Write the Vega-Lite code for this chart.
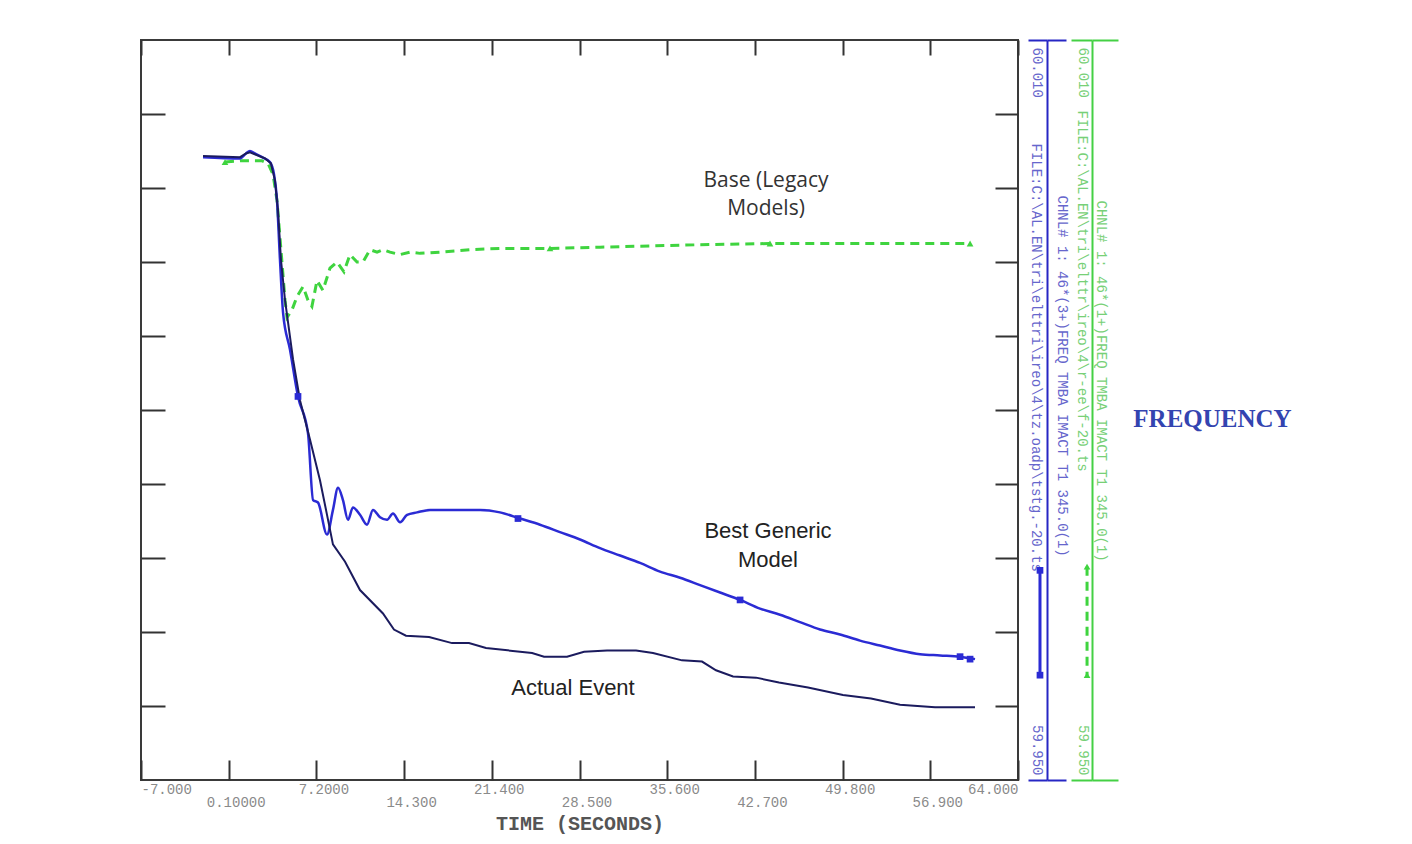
{
  "$schema": "https://vega.github.io/schema/vega-lite/v6.json",
  "width": 877,
  "height": 740,
  "autosize": {"type": "none"},
  "padding": {"left": 141, "top": 40, "right": 394, "bottom": 64},
  "background": "white",
  "config": {"view": {"stroke": "#3a3a3a", "strokeWidth": 2}, "axis": {"grid": false}},
  "datasets": {
    "curves": [
      {"series": "Base (Legacy Models)", "t": -0.20, "f": 60.0001},
      {"series": "Base (Legacy Models)", "t": 1.02, "f": 60.0002},
      {"series": "Base (Legacy Models)", "t": 2.80, "f": 60.0002},
      {"series": "Base (Legacy Models)", "t": 3.28, "f": 60.0000},
      {"series": "Base (Legacy Models)", "t": 3.69, "f": 59.9991},
      {"series": "Base (Legacy Models)", "t": 4.01, "f": 59.9970},
      {"series": "Base (Legacy Models)", "t": 4.33, "f": 59.9930},
      {"series": "Base (Legacy Models)", "t": 4.66, "f": 59.9889},
      {"series": "Base (Legacy Models)", "t": 4.82, "f": 59.9875},
      {"series": "Base (Legacy Models)", "t": 5.22, "f": 59.9881},
      {"series": "Base (Legacy Models)", "t": 5.63, "f": 59.9892},
      {"series": "Base (Legacy Models)", "t": 6.12, "f": 59.9900},
      {"series": "Base (Legacy Models)", "t": 6.52, "f": 59.9889},
      {"series": "Base (Legacy Models)", "t": 6.84, "f": 59.9884},
      {"series": "Base (Legacy Models)", "t": 7.25, "f": 59.9905},
      {"series": "Base (Legacy Models)", "t": 7.73, "f": 59.9897},
      {"series": "Base (Legacy Models)", "t": 8.30, "f": 59.9915},
      {"series": "Base (Legacy Models)", "t": 8.87, "f": 59.9920},
      {"series": "Base (Legacy Models)", "t": 9.43, "f": 59.9912},
      {"series": "Base (Legacy Models)", "t": 9.92, "f": 59.9926},
      {"series": "Base (Legacy Models)", "t": 10.49, "f": 59.9920},
      {"series": "Base (Legacy Models)", "t": 10.97, "f": 59.9920},
      {"series": "Base (Legacy Models)", "t": 11.54, "f": 59.9930},
      {"series": "Base (Legacy Models)", "t": 12.11, "f": 59.9928},
      {"series": "Base (Legacy Models)", "t": 12.59, "f": 59.9930},
      {"series": "Base (Legacy Models)", "t": 13.16, "f": 59.9928},
      {"series": "Base (Legacy Models)", "t": 13.97, "f": 59.9926},
      {"series": "Base (Legacy Models)", "t": 14.78, "f": 59.9928},
      {"series": "Base (Legacy Models)", "t": 15.59, "f": 59.9927},
      {"series": "Base (Legacy Models)", "t": 17.21, "f": 59.9928},
      {"series": "Base (Legacy Models)", "t": 19.64, "f": 59.9930},
      {"series": "Base (Legacy Models)", "t": 22.06, "f": 59.9931},
      {"series": "Base (Legacy Models)", "t": 26.11, "f": 59.9931},
      {"series": "Base (Legacy Models)", "t": 30.16, "f": 59.9932},
      {"series": "Base (Legacy Models)", "t": 34.21, "f": 59.9933},
      {"series": "Base (Legacy Models)", "t": 38.26, "f": 59.9934},
      {"series": "Base (Legacy Models)", "t": 43.92, "f": 59.9935},
      {"series": "Base (Legacy Models)", "t": 50.40, "f": 59.9935},
      {"series": "Base (Legacy Models)", "t": 60.12, "f": 59.9935},

      {"series": "Best Generic Model", "t": -1.98, "f": 60.0005},
      {"series": "Best Generic Model", "t": 1.02, "f": 60.0004},
      {"series": "Best Generic Model", "t": 1.50, "f": 60.0008},
      {"series": "Best Generic Model", "t": 1.82, "f": 60.0010},
      {"series": "Best Generic Model", "t": 2.23, "f": 60.0008},
      {"series": "Best Generic Model", "t": 2.80, "f": 60.0005},
      {"series": "Best Generic Model", "t": 3.44, "f": 60.0001},
      {"series": "Best Generic Model", "t": 3.77, "f": 59.9991},
      {"series": "Best Generic Model", "t": 4.01, "f": 59.9970},
      {"series": "Best Generic Model", "t": 4.25, "f": 59.9922},
      {"series": "Best Generic Model", "t": 4.50, "f": 59.9879},
      {"series": "Best Generic Model", "t": 5.06, "f": 59.9849},
      {"series": "Best Generic Model", "t": 5.71, "f": 59.9811},
      {"series": "Best Generic Model", "t": 6.52, "f": 59.9781},
      {"series": "Best Generic Model", "t": 6.93, "f": 59.9727},
      {"series": "Best Generic Model", "t": 7.33, "f": 59.9725},
      {"series": "Best Generic Model", "t": 8.06, "f": 59.9699},
      {"series": "Best Generic Model", "t": 8.54, "f": 59.9719},
      {"series": "Best Generic Model", "t": 8.95, "f": 59.9737},
      {"series": "Best Generic Model", "t": 9.35, "f": 59.9727},
      {"series": "Best Generic Model", "t": 9.76, "f": 59.9711},
      {"series": "Best Generic Model", "t": 10.16, "f": 59.9721},
      {"series": "Best Generic Model", "t": 10.73, "f": 59.9715},
      {"series": "Best Generic Model", "t": 11.30, "f": 59.9707},
      {"series": "Best Generic Model", "t": 11.78, "f": 59.9719},
      {"series": "Best Generic Model", "t": 12.35, "f": 59.9713},
      {"series": "Best Generic Model", "t": 12.92, "f": 59.9711},
      {"series": "Best Generic Model", "t": 13.40, "f": 59.9716},
      {"series": "Best Generic Model", "t": 13.97, "f": 59.9709},
      {"series": "Best Generic Model", "t": 14.54, "f": 59.9715},
      {"series": "Best Generic Model", "t": 15.35, "f": 59.9717},
      {"series": "Best Generic Model", "t": 16.40, "f": 59.9719},
      {"series": "Best Generic Model", "t": 17.45, "f": 59.9719},
      {"series": "Best Generic Model", "t": 18.83, "f": 59.9719},
      {"series": "Best Generic Model", "t": 20.45, "f": 59.9719},
      {"series": "Best Generic Model", "t": 22.06, "f": 59.9717},
      {"series": "Best Generic Model", "t": 23.68, "f": 59.9712},
      {"series": "Best Generic Model", "t": 25.30, "f": 59.9707},
      {"series": "Best Generic Model", "t": 26.92, "f": 59.9701},
      {"series": "Best Generic Model", "t": 28.54, "f": 59.9695},
      {"series": "Best Generic Model", "t": 30.16, "f": 59.9688},
      {"series": "Best Generic Model", "t": 31.78, "f": 59.9682},
      {"series": "Best Generic Model", "t": 33.40, "f": 59.9676},
      {"series": "Best Generic Model", "t": 35.02, "f": 59.9669},
      {"series": "Best Generic Model", "t": 36.64, "f": 59.9664},
      {"series": "Best Generic Model", "t": 38.26, "f": 59.9658},
      {"series": "Best Generic Model", "t": 39.88, "f": 59.9652},
      {"series": "Best Generic Model", "t": 41.50, "f": 59.9646},
      {"series": "Best Generic Model", "t": 43.11, "f": 59.9639},
      {"series": "Best Generic Model", "t": 44.73, "f": 59.9634},
      {"series": "Best Generic Model", "t": 46.35, "f": 59.9628},
      {"series": "Best Generic Model", "t": 47.97, "f": 59.9622},
      {"series": "Best Generic Model", "t": 49.59, "f": 59.9618},
      {"series": "Best Generic Model", "t": 51.21, "f": 59.9613},
      {"series": "Best Generic Model", "t": 52.83, "f": 59.9609},
      {"series": "Best Generic Model", "t": 54.45, "f": 59.9605},
      {"series": "Best Generic Model", "t": 56.07, "f": 59.9602},
      {"series": "Best Generic Model", "t": 57.69, "f": 59.9601},
      {"series": "Best Generic Model", "t": 59.31, "f": 59.9600},
      {"series": "Best Generic Model", "t": 60.52, "f": 59.9598},

      {"series": "Actual Event", "t": -1.98, "f": 60.0006},
      {"series": "Actual Event", "t": 1.02, "f": 60.0005},
      {"series": "Actual Event", "t": 1.50, "f": 60.0008},
      {"series": "Actual Event", "t": 1.82, "f": 60.0009},
      {"series": "Actual Event", "t": 2.31, "f": 60.0007},
      {"series": "Actual Event", "t": 3.04, "f": 60.0004},
      {"series": "Actual Event", "t": 3.52, "f": 60.0000},
      {"series": "Actual Event", "t": 3.85, "f": 59.9986},
      {"series": "Actual Event", "t": 4.09, "f": 59.9962},
      {"series": "Actual Event", "t": 4.33, "f": 59.9922},
      {"series": "Actual Event", "t": 4.66, "f": 59.9889},
      {"series": "Actual Event", "t": 5.31, "f": 59.9841},
      {"series": "Actual Event", "t": 5.87, "f": 59.9808},
      {"series": "Actual Event", "t": 6.68, "f": 59.9776},
      {"series": "Actual Event", "t": 7.49, "f": 59.9743},
      {"series": "Actual Event", "t": 8.06, "f": 59.9715},
      {"series": "Actual Event", "t": 8.54, "f": 59.9691},
      {"series": "Actual Event", "t": 9.52, "f": 59.9677},
      {"series": "Actual Event", "t": 10.73, "f": 59.9654},
      {"series": "Actual Event", "t": 12.59, "f": 59.9635},
      {"series": "Actual Event", "t": 13.48, "f": 59.9622},
      {"series": "Actual Event", "t": 14.45, "f": 59.9617},
      {"series": "Actual Event", "t": 16.32, "f": 59.9616},
      {"series": "Actual Event", "t": 18.18, "f": 59.9611},
      {"series": "Actual Event", "t": 19.55, "f": 59.9611},
      {"series": "Actual Event", "t": 20.93, "f": 59.9607},
      {"series": "Actual Event", "t": 24.66, "f": 59.9603},
      {"series": "Actual Event", "t": 25.63, "f": 59.9600},
      {"series": "Actual Event", "t": 27.49, "f": 59.9600},
      {"series": "Actual Event", "t": 28.87, "f": 59.9604},
      {"series": "Actual Event", "t": 30.73, "f": 59.9605},
      {"series": "Actual Event", "t": 33.08, "f": 59.9605},
      {"series": "Actual Event", "t": 34.45, "f": 59.9603},
      {"series": "Actual Event", "t": 36.80, "f": 59.9597},
      {"series": "Actual Event", "t": 38.42, "f": 59.9596},
      {"series": "Actual Event", "t": 39.55, "f": 59.9589},
      {"series": "Actual Event", "t": 40.93, "f": 59.9584},
      {"series": "Actual Event", "t": 42.79, "f": 59.9583},
      {"series": "Actual Event", "t": 44.65, "f": 59.9579},
      {"series": "Actual Event", "t": 47.00, "f": 59.9575},
      {"series": "Actual Event", "t": 49.83, "f": 59.9569},
      {"series": "Actual Event", "t": 52.10, "f": 59.9566},
      {"series": "Actual Event", "t": 54.45, "f": 59.9561},
      {"series": "Actual Event", "t": 57.28, "f": 59.9559},
      {"series": "Actual Event", "t": 60.52, "f": 59.9559}
    ],
    "markers": [
      {"series": "Best Generic Model", "t": 5.71, "f": 59.9811},
      {"series": "Best Generic Model", "t": 23.52, "f": 59.9712},
      {"series": "Best Generic Model", "t": 41.50, "f": 59.9646},
      {"series": "Best Generic Model", "t": 59.31, "f": 59.9600},
      {"series": "Best Generic Model", "t": 60.12, "f": 59.9598},
      {"series": "Base (Legacy Models)", "t": -0.20, "f": 60.0001},
      {"series": "Base (Legacy Models)", "t": 26.11, "f": 59.9931},
      {"series": "Base (Legacy Models)", "t": 43.92, "f": 59.9935},
      {"series": "Base (Legacy Models)", "t": 60.12, "f": 59.9935}
    ],
    "keySamples": [
      {"series": "Best Generic Model", "t": 65.78, "f": 59.9670, "f2": 59.9585},
      {"series": "Base (Legacy Models)", "t": 69.59, "f": 59.9673, "f2": 59.9585}
    ],
    "keyMarkers": [
      {"series": "Best Generic Model", "t": 65.78, "f": 59.9670},
      {"series": "Best Generic Model", "t": 65.78, "f": 59.9585},
      {"series": "Base (Legacy Models)", "t": 69.59, "f": 59.9673},
      {"series": "Base (Legacy Models)", "t": 69.59, "f": 59.9585}
    ],
    "notes": [
      {"label": "Best Generic\nModel", "t": 43.76, "f": 59.9702},
      {"label": "Actual Event", "t": 27.97, "f": 59.9575}
    ],
    "notesBase": [
      {"label": "Base (Legacy\nModels)", "t": 43.6, "f": 59.9986}
    ]
  },
  "resolve": {"axis": {"x": "independent", "y": "independent"}},
  "layer": [
    {
      "data": {"name": "curves"},
      "transform": [{"filter": "datum.series == 'Base (Legacy Models)'"}],
      "mark": {"type": "line", "strokeWidth": 3, "strokeDash": [9, 6], "color": "#3fd43f"},
      "encoding": {
        "x": {
          "field": "t", "type": "quantitative",
          "scale": {"domain": [-7, 64], "nice": false, "zero": false},
          "axis": {
            "orient": "bottom", "domain": false,
            "values": [-7, 0.1, 7.2, 14.3, 21.4, 28.5, 35.6, 42.7, 49.8, 56.9, 64],
            "tickSize": -20, "tickWidth": 2, "tickColor": "#333333",
            "labelExpr": "(round((datum.value + 7) / 7.1) % 2 == 1) ? ['', (datum.value < 0 ? '-7.000' : format(datum.value, '.5g'))] : (datum.value < 0 ? '-7.000' : format(datum.value, '.5g'))",
            "labelFont": "Liberation Mono", "labelFontSize": 14, "labelColor": "#8a8a8a",
            "labelLineHeight": 13, "labelBaseline": "top", "labelPadding": 22,
            "labelFlush": true,
            "labelOffset": {"condition": {"test": "datum.value < 0 || datum.value > 60", "value": 0}, "value": 7},
            "title": "TIME (SECONDS)", "titleFont": "Liberation Mono", "titleFontSize": 20,
            "titleFontWeight": "bold", "titleColor": "#555555", "titleY": 43, "titleBaseline": "middle"
          }
        },
        "y": {
          "field": "f", "type": "quantitative",
          "scale": {"domain": [59.95, 60.01], "nice": false, "zero": false},
          "axis": {
            "orient": "left", "domain": false, "labels": false, "title": null,
            "values": [60.004, 59.998, 59.992, 59.986, 59.98, 59.974, 59.968, 59.962, 59.956],
            "tickSize": -24, "tickWidth": 2, "tickColor": "#333333"
          }
        }
      }
    },
    {
      "data": {"name": "curves"},
      "transform": [{"filter": "datum.series == 'Best Generic Model'"}],
      "mark": {"type": "line", "strokeWidth": 2.5, "color": "#2b2bd4", "interpolate": "monotone"},
      "encoding": {
        "x": {
          "field": "t", "type": "quantitative",
          "axis": {
            "orient": "top", "domain": false, "labels": false, "title": null,
            "values": [-7, 0.1, 7.2, 14.3, 21.4, 28.5, 35.6, 42.7, 49.8, 56.9, 64],
            "tickSize": -15, "tickWidth": 2, "tickColor": "#333333"
          }
        },
        "y": {
          "field": "f", "type": "quantitative",
          "axis": {
            "orient": "right", "offset": 0, "domain": false, "labels": false, "title": null,
            "values": [60.004, 59.998, 59.992, 59.986, 59.98, 59.974, 59.968, 59.962, 59.956],
            "tickSize": -23, "tickWidth": 2, "tickColor": "#333333"
          }
        }
      }
    },
    {
      "data": {"name": "curves"},
      "transform": [{"filter": "datum.series == 'Actual Event'"}],
      "mark": {"type": "line", "strokeWidth": 2, "color": "#1b1b5e"},
      "encoding": {
        "x": {"field": "t", "type": "quantitative", "axis": null},
        "y": {
          "field": "f", "type": "quantitative",
          "axis": {
            "orient": "right", "offset": 29,
            "domain": true, "domainColor": "#2626c4", "domainWidth": 2,
            "values": [60.01, 59.95], "tickSize": 19, "tickWidth": 2, "tickColor": "#2626c4",
            "labels": true, "labelExpr": "format(datum.value, '.3f')",
            "labelAngle": 90, "labelBaseline": "top", "labelPadding": -23,
            "labelAlign": {"condition": {"test": "datum.value > 60", "value": "left"}, "value": "right"},
            "labelOffset": {"condition": {"test": "datum.value > 60", "value": 7}, "value": -5},
            "labelFont": "Liberation Mono", "labelFontSize": 14, "labelColor": "#6666cc",
            "title": "FILE:C:\\AL.EN\\tri\\elttri\\ireo\\4\\tz.oadp\\tstg.-20.ts",
            "titleAngle": 90, "titleAlign": "left", "titleBaseline": "top",
            "titleX": -5, "titleY": 103,
            "titleFont": "Liberation Mono", "titleFontSize": 14, "titleFontWeight": "normal", "titleColor": "#6666cc"
          }
        }
      }
    },
    {
      "data": {"name": "markers"},
      "mark": {"type": "point", "filled": true, "opacity": 1},
      "encoding": {
        "x": {"field": "t", "type": "quantitative", "axis": null},
        "y": {
          "field": "f", "type": "quantitative",
          "axis": {
            "orient": "right", "offset": 29, "domain": false,
            "values": [60.01, 59.95], "tickSize": -19, "tickWidth": 2, "tickColor": "#2626c4",
            "labels": false,
            "title": "CHNL# 1: 46*(3+)FREQ  TMBA IMACT T1    345.0(1)",
            "titleAngle": 90, "titleAlign": "left", "titleBaseline": "bottom",
            "titleX": 7, "titleY": 155,
            "titleFont": "Liberation Mono", "titleFontSize": 14, "titleFontWeight": "normal", "titleColor": "#6666cc"
          }
        },
        "color": {"field": "series", "type": "nominal", "legend": null,
          "scale": {"domain": ["Actual Event", "Best Generic Model", "Base (Legacy Models)"], "range": ["#1b1b5e", "#2b2bd4", "#3fd43f"]}},
        "shape": {"field": "series", "type": "nominal", "legend": null,
          "scale": {"domain": ["Best Generic Model", "Base (Legacy Models)"], "range": ["square", "triangle-up"]}},
        "size": {"value": 45}
      }
    },
    {
      "data": {"name": "keySamples"},
      "mark": {"type": "rule", "strokeWidth": 3},
      "encoding": {
        "x": {"field": "t", "type": "quantitative", "axis": null},
        "y": {
          "field": "f", "type": "quantitative",
          "axis": {
            "orient": "right", "offset": 74,
            "domain": true, "domainColor": "#44d044", "domainWidth": 2,
            "values": [60.01, 59.95], "tickSize": 26, "tickWidth": 2, "tickColor": "#44d044",
            "labels": true, "labelExpr": "format(datum.value, '.3f')",
            "labelAngle": 90, "labelBaseline": "top", "labelPadding": -29,
            "labelAlign": {"condition": {"test": "datum.value > 60", "value": "left"}, "value": "right"},
            "labelOffset": {"condition": {"test": "datum.value > 60", "value": 7}, "value": -5},
            "labelFont": "Liberation Mono", "labelFontSize": 14, "labelColor": "#77d077",
            "title": "FILE:C:\\AL.EN\\tri\\elttr\\ireo\\4\\r-ee\\f-20.ts",
            "titleAngle": 90, "titleAlign": "left", "titleBaseline": "top",
            "titleX": -4, "titleY": 70,
            "titleFont": "Liberation Mono", "titleFontSize": 14, "titleFontWeight": "normal", "titleColor": "#77d077"
          }
        },
        "y2": {"field": "f2"},
        "color": {"field": "series", "type": "nominal", "legend": null},
        "strokeDash": {"field": "series", "type": "nominal", "legend": null,
          "scale": {"domain": ["Best Generic Model", "Base (Legacy Models)"], "range": [[1, 0], [9, 6]]}}
      }
    },
    {
      "data": {"name": "keyMarkers"},
      "mark": {"type": "point", "filled": true, "opacity": 1},
      "encoding": {
        "x": {"field": "t", "type": "quantitative", "axis": null},
        "y": {
          "field": "f", "type": "quantitative",
          "axis": {
            "orient": "right", "offset": 74, "domain": false,
            "values": [60.01, 59.95], "tickSize": -21, "tickWidth": 2, "tickColor": "#44d044",
            "labels": false,
            "title": "CHNL# 1: 46*(1+)FREQ  TMBA IMACT T1    345.0(1)",
            "titleAngle": 90, "titleAlign": "left", "titleBaseline": "bottom",
            "titleX": 1, "titleY": 160,
            "titleFont": "Liberation Mono", "titleFontSize": 14, "titleFontWeight": "normal", "titleColor": "#77d077"
          }
        },
        "color": {"field": "series", "type": "nominal", "legend": null},
        "shape": {"field": "series", "type": "nominal", "legend": null},
        "size": {"value": 45}
      }
    },
    {
      "data": {"name": "notes"},
      "mark": {"type": "text", "font": "Liberation Sans", "fontSize": 22, "color": "#222222", "lineBreak": "\n", "lineHeight": 29, "baseline": "middle", "align": "center"},
      "encoding": {
        "x": {"field": "t", "type": "quantitative", "axis": null},
        "y": {
          "field": "f", "type": "quantitative",
          "axis": {
            "orient": "right", "offset": 0, "domain": false, "ticks": false, "labels": false,
            "title": "FREQUENCY", "titleAngle": 0, "titleAlign": "center", "titleBaseline": "middle",
            "titleX": 194, "titleY": 378,
            "titleFont": "Liberation Serif", "titleFontSize": 25, "titleFontWeight": "bold", "titleColor": "#3344b0"
          }
        },
        "text": {"field": "label", "type": "nominal"}
      }
    },
    {
      "data": {"name": "notesBase"},
      "mark": {"type": "text", "font": "Open Sans", "fontSize": 21, "color": "#333333", "lineBreak": "\n", "lineHeight": 28, "baseline": "middle", "align": "center"},
      "encoding": {
        "x": {"field": "t", "type": "quantitative", "axis": null},
        "y": {"field": "f", "type": "quantitative", "axis": null},
        "text": {"field": "label", "type": "nominal"}
      }
    }
  ]
}
